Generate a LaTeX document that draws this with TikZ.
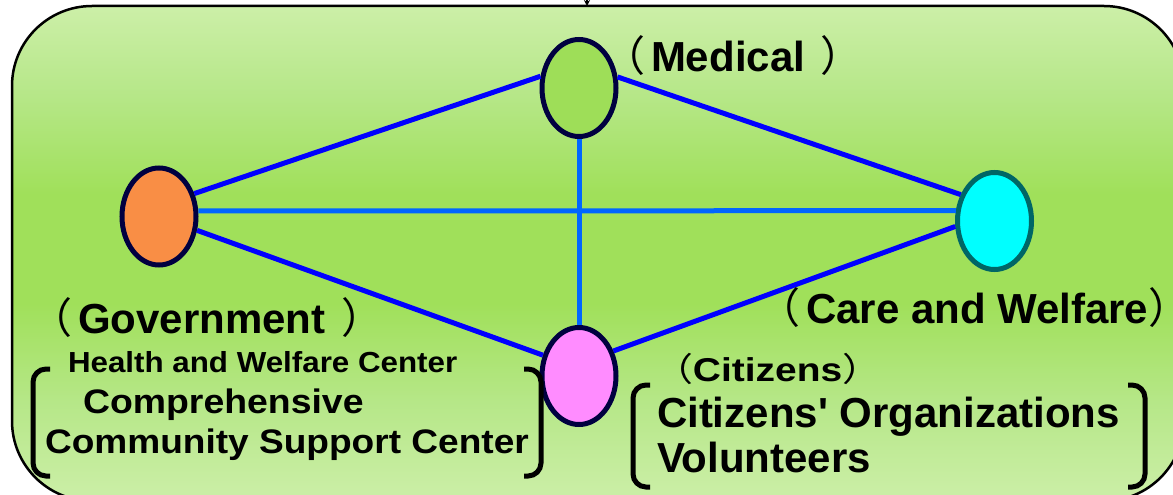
\documentclass[tikz,border=0pt]{standalone}
\usepackage{fontspec}
\usepackage{graphicx}
\setmainfont{Liberation Sans}[Ligatures=TeXOff]
\newfontfamily\cjk{Noto Sans CJK JP}
\usetikzlibrary{shapes.geometric,arrows.meta}

\definecolor{panelEdge}{HTML}{CCEFA8}
\definecolor{panelSoft}{HTML}{B6E788}
\definecolor{panelMid}{HTML}{A0E05A}
\definecolor{navyRim}{HTML}{000040}
\definecolor{tealRim}{HTML}{006666}
\definecolor{medFill}{HTML}{9EDE58}
\definecolor{govFill}{HTML}{F98E45}
\definecolor{careFill}{HTML}{00FFFF}
\definecolor{citFill}{HTML}{FF8CFF}
\definecolor{linkDeep}{HTML}{0000FF}
\definecolor{linkLight}{HTML}{0066FF}

% light at top and bottom, saturated green through the middle band
\pgfdeclareverticalshading{panelshade}{100bp}{%
  color(0bp)=(panelEdge); color(25bp)=(panelEdge); color(35bp)=(panelSoft);
  color(45bp)=(panelMid); color(56bp)=(panelMid); color(66bp)=(panelSoft);
  color(75bp)=(panelEdge); color(100bp)=(panelEdge)}

\newcommand{\lp}{{\cjk\mdseries （}}
\newcommand{\rp}{{\cjk\mdseries\makebox[0.35em][l]{）}}}

\tikzset{
  actor/.style={ellipse, draw=navyRim, line width=5pt, minimum width=74pt, minimum height=97pt},
  diag/.style={draw=linkDeep, line width=5pt},
  axis/.style={draw=linkLight, line width=5pt},
  lbl/.style={anchor=base west, inner sep=0pt, outer sep=0pt, font=\bfseries},
  big/.style={lbl, font=\bfseries\fontsize{42}{42}\selectfont},
  brk/.style={draw=black, line width=5pt, rounded corners=13pt},
}

\begin{document}
\begin{tikzpicture}[x=1pt, y=-1pt]
\useasboundingbox (0,0) rectangle (1173,495);

% green panel
\draw[line width=2.5pt, rounded corners=80pt, shading=panelshade]
  (12,6) rectangle (1184,501);

% incoming arrow at the top edge
\coordinate (feed) at (587,-12);
\coordinate (entry) at (587,6);
\draw[line width=1.2pt, -{Stealth[length=6pt,width=6pt]}] (feed) -- (entry);

% the four parties
\node[actor, fill=medFill] (med) at (579,88) {};
\node[actor, fill=govFill] (gov) at (159,216.5) {};
\node[actor, fill=careFill, draw=tealRim] (care) at (994.5,221) {};
\node[actor, fill=citFill] (cit) at (579,376) {};

% links
\draw[axis] (gov.8) -- (care.165);
\draw[axis] (med.south) -- (cit.north);
\draw[diag] (gov.33) -- (med.163);
\draw[diag] (med.16) -- (care.142);
\draw[diag] (gov.-20) -- (cit.150);
\draw[diag] (cit.36) -- (care.188);

% labels
\node[big] (tmed) at (603,71) {\lp\kern6pt Medical\kern4pt{} \rp};
\node[big] (tgov) at (30,333) {\lp\kern6pt Government\kern4pt{} \rp};
\node[big] (tcare) at (758,323) {\lp\kern6pt Care and Welfare\rp};
\node[lbl] (tcit) at (654,381) {\scalebox{1.18}[1]{\fontsize{33}{33}\selectfont\lp Citizens\rp}};

\node[lbl] (thw) at (68,372) {\scalebox{1.08}[1]{\fontsize{29}{29}\selectfont Health and Welfare Center}};
\node[lbl] (tcomp) at (83,413) {\scalebox{1.1}[1]{\fontsize{34}{34}\selectfont Comprehensive}};
\node[lbl] (tcsc) at (45,453) {\scalebox{1.09}[1]{\fontsize{34}{34}\selectfont Community Support Center}};
\node[big] (torg) at (657,427) {Citizens' Organizations};
\node[big] (tvol) at (657,472) {Volunteers};

% brackets
\draw[brk] (50,369) -- (33,369) -- (33,476) -- (50,476);
\draw[brk] (524,369) -- (541,369) -- (541,476) -- (524,476);
\draw[brk] (650,385) -- (633,385) -- (633,487) -- (650,487);
\draw[brk] (1128,385) -- (1145,385) -- (1145,487) -- (1128,487);
\end{tikzpicture}
\end{document}
